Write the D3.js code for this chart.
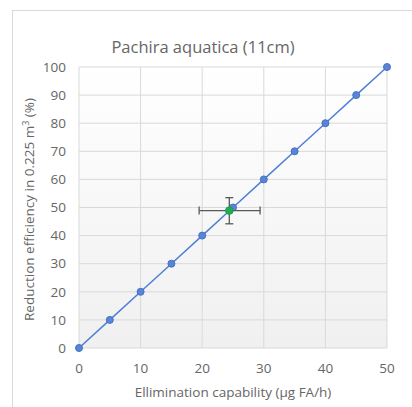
<!DOCTYPE html>
<html>
<head>
<meta charset="utf-8">
<script src="https://cdn.jsdelivr.net/npm/d3@7"></script>
<style>
  body { margin: 0; background: #fff; }
  text { font-family: "Open Sans", sans-serif; fill: #666; }
</style>
</head>
<body>
<svg id="chart" width="412" height="407"></svg>
<script>
const lineX = [0, 5, 10, 15, 20, 25, 30, 35, 40, 45, 50];
const lineY = [0, 10, 20, 30, 40, 50, 60, 70, 80, 90, 100];
const sampleX = [24.4];
const sampleY = [48.9];
const sampleXErr = [[19.5, 29.4]];
const sampleYErr = [[44.2, 53.5]];
const xTicks = [0, 10, 20, 30, 40, 50];
const yTicks = [0, 10, 20, 30, 40, 50, 60, 70, 80, 90, 100];

const svg = d3.select("#chart");

// outer frame (right/bottom cut off)
svg.append("rect")
  .attr("x", 12.5).attr("y", 10.5)
  .attr("width", 420).attr("height", 420)
  .attr("fill", "#fff")
  .attr("stroke", "#d9d9d9");

const plotL = 79, plotR = 387, plotT = 67, plotB = 348;

const x = d3.scaleLinear().domain([0, 50]).range([plotL, plotR]);
const y = d3.scaleLinear().domain([0, 100]).range([plotB, plotT]);

const grad = svg.append("defs").append("linearGradient")
  .attr("id", "bg").attr("x1", 0).attr("y1", 0).attr("x2", 0).attr("y2", 1);
grad.append("stop").attr("offset", "0%").attr("stop-color", "#ffffff");
grad.append("stop").attr("offset", "100%").attr("stop-color", "#f0f0f0");

svg.append("rect")
  .attr("x", plotL).attr("y", plotT)
  .attr("width", plotR - plotL).attr("height", plotB - plotT)
  .attr("fill", "url(#bg)");

// grid
svg.append("g")
  .selectAll("line")
  .data(yTicks)
  .join("line")
  .attr("x1", plotL).attr("x2", plotR)
  .attr("y1", d => y(d)).attr("y2", d => y(d))
  .attr("stroke", "#d9d9d9");

svg.append("g")
  .selectAll("line")
  .data(xTicks)
  .join("line")
  .attr("y1", plotT).attr("y2", plotB)
  .attr("x1", d => x(d)).attr("x2", d => x(d))
  .attr("stroke", "#d9d9d9");

// tick labels
svg.append("g")
  .selectAll("text")
  .data(yTicks)
  .join("text")
  .attr("x", plotL - 13)
  .attr("y", d => y(d))
  .attr("dy", "0.35em")
  .attr("text-anchor", "end")
  .attr("font-size", 13.5)
  .text(d => d);

svg.append("g")
  .selectAll("text")
  .data(xTicks)
  .join("text")
  .attr("x", d => x(d))
  .attr("y", plotB + 25)
  .attr("text-anchor", "middle")
  .attr("font-size", 13.5)
  .text(d => d);

// line series
const pts = lineX.map((d, i) => ({ x: d, y: lineY[i] }));
svg.append("path")
  .datum(pts)
  .attr("fill", "none")
  .attr("stroke", "#4f7fd6")
  .attr("stroke-width", 1.5)
  .attr("d", d3.line().x(d => x(d.x)).y(d => y(d.y)));

svg.append("g")
  .selectAll("circle")
  .data(pts)
  .join("circle")
  .attr("cx", d => x(d.x))
  .attr("cy", d => y(d.y))
  .attr("r", 3.5)
  .attr("fill", "#5b83d6")
  .attr("stroke", "#4472c4")
  .attr("stroke-width", 1);

// error bars
const eb = svg.append("g").attr("stroke", "#595959").attr("stroke-width", 1.3);
sampleX.forEach((sx, i) => {
  const sy = sampleY[i];
  const [x0, x1] = sampleXErr[i];
  const [y0, y1] = sampleYErr[i];
  eb.append("line").attr("x1", x(x0)).attr("x2", x(x1)).attr("y1", y(sy)).attr("y2", y(sy));
  eb.append("line").attr("x1", x(x0)).attr("x2", x(x0)).attr("y1", y(sy) - 4).attr("y2", y(sy) + 4);
  eb.append("line").attr("x1", x(x1)).attr("x2", x(x1)).attr("y1", y(sy) - 4).attr("y2", y(sy) + 4);
  eb.append("line").attr("x1", x(sx)).attr("x2", x(sx)).attr("y1", y(y0)).attr("y2", y(y1));
  eb.append("line").attr("x1", x(sx) - 4).attr("x2", x(sx) + 4).attr("y1", y(y0)).attr("y2", y(y0));
  eb.append("line").attr("x1", x(sx) - 4).attr("x2", x(sx) + 4).attr("y1", y(y1)).attr("y2", y(y1));
});

svg.append("g")
  .selectAll("circle")
  .data(sampleX.map((d, i) => ({ x: d, y: sampleY[i] })))
  .join("circle")
  .attr("cx", d => x(d.x))
  .attr("cy", d => y(d.y))
  .attr("r", 3.8)
  .attr("fill", "#1fae4f")
  .attr("stroke", "#1a9e47");

// titles
svg.append("text")
  .attr("x", 203).attr("y", 53)
  .attr("text-anchor", "middle")
  .attr("font-size", 16.5)
  .text("Pachira aquatica (11cm)");

svg.append("text")
  .attr("x", 233).attr("y", 397)
  .attr("text-anchor", "middle")
  .attr("font-size", 13.5)
  .text("Ellimination capability (µg FA/h)");

const yt = svg.append("text")
  .attr("transform", `translate(34,${(plotT + plotB) / 2 + 2}) rotate(-90)`)
  .attr("text-anchor", "middle")
  .attr("font-size", 13.5);
yt.append("tspan").text("Reduction efficiency in 0.225 m");
yt.append("tspan").attr("font-size", 9).attr("dy", -5).text("3");
yt.append("tspan").attr("dy", 5).text("  (%)");
</script>
</body>
</html>
